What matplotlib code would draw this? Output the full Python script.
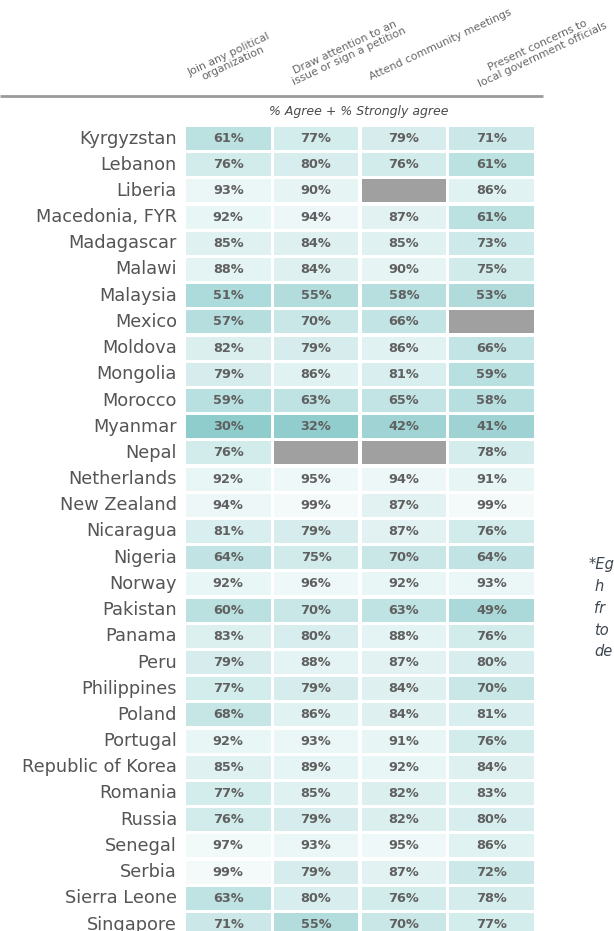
import matplotlib
matplotlib.use('Agg')
import matplotlib.pyplot as plt
from matplotlib.colors import LinearSegmentedColormap, Normalize
import numpy as np

# ---data---
countries = ['Kyrgyzstan', 'Lebanon', 'Liberia', 'Macedonia, FYR', 'Madagascar',
             'Malawi', 'Malaysia', 'Mexico', 'Moldova', 'Mongolia', 'Morocco',
             'Myanmar', 'Nepal', 'Netherlands', 'New Zealand', 'Nicaragua',
             'Nigeria', 'Norway', 'Pakistan', 'Panama', 'Peru', 'Philippines',
             'Poland', 'Portugal', 'Republic of Korea', 'Romania', 'Russia',
             'Senegal', 'Serbia', 'Sierra Leone', 'Singapore']

columns = ['Join any political\norganization',
           'Draw attention to an\nissue or sign a petition',
           'Attend community meetings',
           'Present concerns to\nlocal government officials']

nan = np.nan
join_org = [61, 76, 93, 92, 85, 88, 51, 57, 82, 79, 59, 30, 76, 92, 94, 81,
            64, 92, 60, 83, 79, 77, 68, 92, 85, 77, 76, 97, 99, 63, 71]
petition = [77, 80, 90, 94, 84, 84, 55, 70, 79, 86, 63, 32, nan, 95, 99, 79,
            75, 96, 70, 80, 88, 79, 86, 93, 89, 85, 79, 93, 79, 80, 55]
meetings = [79, 76, nan, 87, 85, 90, 58, 66, 86, 81, 65, 42, nan, 94, 87, 87,
            70, 92, 63, 88, 87, 84, 84, 91, 92, 82, 82, 95, 87, 76, 70]
officials = [71, 61, 86, 61, 73, 75, 53, nan, 66, 59, 58, 41, 78, 91, 99, 76,
             64, 93, 49, 76, 80, 70, 81, 76, 84, 83, 80, 86, 72, 78, 77]

subtitle = '% Agree + % Strongly agree'
# only the start of the side note is visible at the right edge
note_lines = ['*Eg', 'h', 'fr', 'to', 'de']

# ---layout (pixels)---
W, H = 614, 931
row_top = 138.5      # centre of first row
row_pitch = 26.2
cell_h = 23
col_left = 186
col_pitch = 87.8
cell_w = 84.5

text_col = '#555555'
cmap = LinearSegmentedColormap.from_list('teal', ['#8fcccc', '#f5fbfb'])
norm = Normalize(vmin=30, vmax=100)

fig = plt.figure(figsize=(W / 100, H / 100), dpi=100, facecolor='white')
ax = fig.add_axes([0, 0, 1, 1])
ax.set_xlim(0, W)
ax.set_ylim(H, 0)
ax.axis('off')

# ---cells---
y = row_top + row_pitch * np.arange(len(countries))
for j, vals in enumerate([join_org, petition, meetings, officials]):
    vals = np.array(vals, dtype=float)
    colors = [cmap(norm(v)) if not np.isnan(v) else '#a0a0a0' for v in vals]
    left = col_left + j * col_pitch
    ax.barh(y, cell_w, left=left, height=cell_h, color=colors, linewidth=0)
    for yi, v in zip(y, vals):
        if not np.isnan(v):
            ax.text(left + cell_w / 2, yi, '%d%%' % v, ha='center', va='center',
                    fontsize=9.3, fontweight='bold', color='#606060')

# ---row labels---
for yi, name in zip(y, countries):
    ax.text(177, yi, name, ha='right', va='center', fontsize=12.8,
            color=text_col)

# ---header---
ax.hlines(96, 0, 543, color='#9a9a9a', linewidth=2)
ax.text(359, 112, subtitle, ha='center', va='center', fontsize=9,
        style='italic', color='#4a4a4a')

head_pos = [(231, 59), (347, 52), (440, 45), (540, 50)]
for (hx, hy), label in zip(head_pos, columns):
    ax.text(hx, hy, label, ha='center', va='center', rotation=25,
            rotation_mode='anchor', multialignment='center', fontsize=7.8,
            color='#666666', linespacing=1.0)

# ---side note---
for k, line in enumerate(note_lines):
    ax.text(589 if k == 0 else 594, 565 + k * 21.7, line, ha='left',
            va='center', fontsize=10.5, style='italic', color='#3d4650')

fig.savefig('out.png', dpi=100, facecolor='white')
